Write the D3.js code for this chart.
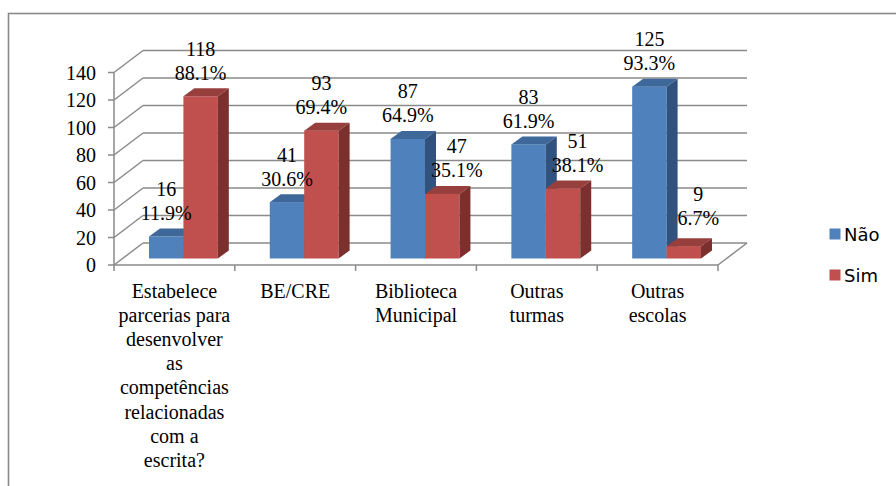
<!DOCTYPE html>
<html>
<head>
<meta charset="utf-8">
<script src="https://cdn.jsdelivr.net/npm/d3@7"></script>
<style>
  html, body { margin: 0; padding: 0; background: #fff; }
  svg { display: block; }
</style>
</head>
<body>
<svg id="chart" width="896" height="486"></svg>
<script>
// ---- Data ----
const categories = [
  ["Estabelece", "parcerias para", "desenvolver", "as", "competências", "relacionadas", "com a", "escrita?"],
  ["BE/CRE"],
  ["Biblioteca", "Municipal"],
  ["Outras", "turmas"],
  ["Outras", "escolas"]
];
const seriesNames = ["Não", "Sim"];
const naoValues = [16, 41, 87, 83, 125];
const simValues = [118, 93, 47, 51, 9];
const naoPercent = ["11.9%", "30.6%", "64.9%", "61.9%", "93.3%"];
const simPercent = ["88.1%", "69.4%", "35.1%", "38.1%", "6.7%"];
const yTicks = [0, 20, 40, 60, 80, 100, 120, 140];

// ---- Layout ----
const svg = d3.select("#chart");
const colors = {
  "Não": { front: "#4f81bd", top: "#3e6899", side: "#30527d" },
  "Sim": { front: "#c0504d", top: "#973f3c", side: "#7b302e" }
};
const gridColor = "#8a8a8a";
const serif = "'Liberation Serif', 'Times New Roman', serif";

const x0 = 114, x1 = 718;
const wall = { dx: 29, dy: -22 };
const barOff = { dx: 9, dy: -6.5 };
const barDepth = { dx: 11, dy: -8 };

const y = d3.scaleLinear().domain([0, 140]).range([265, 72.5]);
const idx = d3.range(categories.length);
const xBand = d3.scaleBand().domain(idx).range([x0, x1]).paddingInner(0).paddingOuter(0);
const barW = xBand.bandwidth() * 0.285;
const xSeries = d3.scaleBand().domain(seriesNames).range([-barW, barW]).padding(0);

// Outer border
svg.append("rect")
  .attr("x", 8.5).attr("y", 13.5).attr("width", 920).attr("height", 500)
  .attr("fill", "none").attr("stroke", "#8a8a8a").attr("stroke-width", 1.6);

const g = svg.append("g");

// Back wall gridlines
g.selectAll("line.grid").data(yTicks).join("line")
  .attr("class", "grid")
  .attr("x1", x0 + wall.dx).attr("x2", x1 + wall.dx)
  .attr("y1", d => y(d) + wall.dy).attr("y2", d => y(d) + wall.dy)
  .attr("stroke", gridColor).attr("stroke-width", 1.5);

// Side wall diagonals
g.selectAll("line.diag").data(yTicks).join("line")
  .attr("class", "diag")
  .attr("x1", x0).attr("x2", x0 + wall.dx)
  .attr("y1", d => y(d)).attr("y2", d => y(d) + wall.dy)
  .attr("stroke", gridColor).attr("stroke-width", 1.5);

// Floor front & right edge
g.append("line").attr("x1", x0).attr("x2", x1).attr("y1", y(0)).attr("y2", y(0))
  .attr("stroke", gridColor).attr("stroke-width", 1.5);
g.append("line").attr("x1", x1).attr("x2", x1 + wall.dx).attr("y1", y(0)).attr("y2", y(0) + wall.dy)
  .attr("stroke", gridColor).attr("stroke-width", 1.5);

// Y axis line + ticks
g.append("line").attr("x1", x0).attr("x2", x0).attr("y1", y(140)).attr("y2", y(0))
  .attr("stroke", gridColor).attr("stroke-width", 1.5);
g.selectAll("line.ytick").data(yTicks).join("line")
  .attr("class", "ytick")
  .attr("x1", x0 - 6).attr("x2", x0)
  .attr("y1", d => y(d)).attr("y2", d => y(d))
  .attr("stroke", gridColor).attr("stroke-width", 1.5);
g.selectAll("text.ylab").data(yTicks).join("text")
  .attr("class", "ylab")
  .attr("x", 96).attr("y", d => y(d) + 7)
  .attr("text-anchor", "end")
  .attr("font-family", serif).attr("font-size", 20)
  .text(d => d);

// Category ticks
const bounds = idx.map(i => xBand(i)).concat([x1]);
g.selectAll("line.xtick").data(bounds).join("line")
  .attr("class", "xtick")
  .attr("x1", d => d).attr("x2", d => d)
  .attr("y1", y(0)).attr("y2", y(0) + 6)
  .attr("stroke", gridColor).attr("stroke-width", 1.5);

// Category labels
idx.forEach(i => {
  const cx = xBand(i) + xBand.bandwidth() / 2;
  const t = g.append("text")
    .attr("x", cx).attr("y", 297.5)
    .attr("text-anchor", "middle")
    .attr("font-family", serif).attr("font-size", 20);
  categories[i].forEach((line, j) => {
    t.append("tspan").attr("x", cx).attr("dy", j === 0 ? 0 : 24.2).text(line);
  });
});

// Bars
function drawBar(i, s, v) {
  const c = colors[s];
  const bx = xBand(i) + xBand.bandwidth() / 2 + barOff.dx + xSeries(s);
  const bw = xSeries.bandwidth();
  const yb = y(0) + barOff.dy;
  const yt = y(v) + barOff.dy;
  const dx = barDepth.dx, dy = barDepth.dy;
  const bg = g.append("g");
  bg.append("rect").attr("x", bx).attr("y", yt).attr("width", bw).attr("height", yb - yt)
    .attr("fill", c.front);
  bg.append("path")
    .attr("d", `M${bx},${yt}L${bx + dx},${yt + dy}L${bx + bw + dx},${yt + dy}L${bx + bw},${yt}Z`)
    .attr("fill", c.top);
  bg.append("path")
    .attr("d", `M${bx + bw},${yt}L${bx + bw + dx},${yt + dy}L${bx + bw + dx},${yb + dy}L${bx + bw},${yb}Z`)
    .attr("fill", c.side);
  return { cx: bx + bw / 2, top: yt };
}

const labelInfo = [];
idx.forEach(i => {
  const a = drawBar(i, "Não", naoValues[i]);
  const b = drawBar(i, "Sim", simValues[i]);
  labelInfo.push({ v: naoValues[i], p: naoPercent[i], cx: a.cx, top: a.top });
  const shift = naoValues[i] > simValues[i] ? 14.5 : 0;
  labelInfo.push({ v: simValues[i], p: simPercent[i], cx: b.cx + shift, top: b.top });
});

// Data labels
labelInfo.forEach(d => {
  const base2 = d.top - 16.5 - (d.v < 15 ? 5 : 0);
  g.append("text").attr("x", d.cx).attr("y", base2 - 24)
    .attr("text-anchor", "middle").attr("font-family", serif).attr("font-size", 20).text(d.v);
  g.append("text").attr("x", d.cx).attr("y", base2)
    .attr("text-anchor", "middle").attr("font-family", serif).attr("font-size", 20).text(d.p);
});

// Legend
const leg = svg.append("g");
seriesNames.forEach((s, k) => {
  const ly = 228.5 + k * 41;
  leg.append("rect").attr("x", 829.5).attr("y", ly).attr("width", 11).attr("height", 11)
    .attr("fill", colors[s].front);
  leg.append("text").attr("x", 844).attr("y", ly + 12)
    .attr("font-family", "'DejaVu Sans', Tahoma, sans-serif").attr("font-size", 18)
    .text(s);
});
</script>
</body>
</html>
